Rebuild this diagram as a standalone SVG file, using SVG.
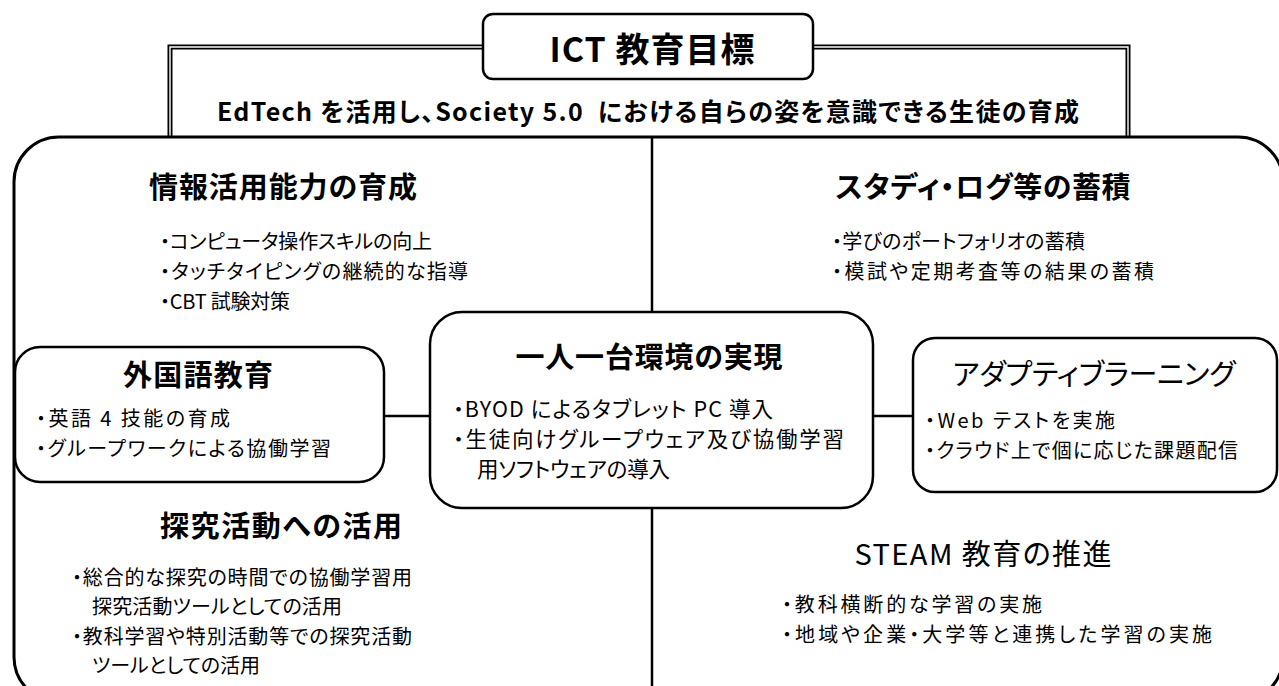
<svg xmlns="http://www.w3.org/2000/svg" width="1279" height="686" viewBox="0 0 1279 686">
<style>
text{font-family:"Noto Sans CJK JP","Noto Sans",sans-serif;fill:#000;font-feature-settings:"palt" 1}
.h{font-weight:bold;font-size:29px;text-anchor:middle}
.hn{font-weight:normal;font-size:29px;text-anchor:middle}
.b{font-size:20px}
.bc{font-size:21.5px}
.box{fill:#fff;stroke:#000;stroke-width:2.5}
.ln{stroke:#000;stroke-width:2.5;fill:none}
.dbl{stroke:#000;stroke-width:5;fill:none}
.dbw{stroke:#fff;stroke-width:1.4;fill:none}
</style>
<rect width="1279" height="686" fill="#fff"/>
<g id="frame">
<path class="dbl" d="M170,137 V47 H483 M813,47 H1128 V137"/>
<path class="dbw" d="M170,139 V47 H483 M813,47 H1128 V139"/>
<text x="648" y="121" xml:space="preserve" style="font-weight:bold;font-size:25px;text-anchor:middle" textLength="862" lengthAdjust="spacing">EdTech を活用し、Society 5.0  における自らの姿を意識できる生徒の育成</text>
</g>
<g id="goal">
<rect class="box" x="483" y="14" width="330" height="65" rx="10"/>
<text x="652" y="62" style="font-weight:bold;font-size:34px;text-anchor:middle" textLength="205">ICT 教育目標</text>
</g>
<g id="outer">
<rect x="14" y="137" width="1269" height="565" rx="45" fill="#fff" stroke="#000" stroke-width="3"/>
</g>
<g id="connectors">
<path class="ln" d="M652,137 V312 M652,508 V686 M383,416 H430 M873,416 H913"/>
</g>
<g id="info">
<text class="h" x="283" y="198" textLength="268">情報活用能力の育成</text>
<text class="b" x="160" y="249" textLength="272">・コンピュータ操作スキルの向上</text>
<text class="b" x="160" y="279" textLength="308">・タッチタイピングの継続的な指導</text>
<text class="b" x="160" y="309" textLength="130">・CBT 試験対策</text>
</g>
<g id="studylog">
<text class="h" x="983" y="198" textLength="295">スタディ・ログ等の蓄積</text>
<text class="b" x="832" y="249" textLength="253">・学びのポートフォリオの蓄積</text>
<text class="b" x="832" y="279" textLength="322">・模試や定期考査等の結果の蓄積</text>
</g>
<g id="foreign">
<rect class="box" x="15" y="347" width="369" height="135" rx="25"/>
<text class="h" x="198" y="386" textLength="150">外国語教育</text>
<text class="b" x="36" y="426" textLength="194">・英語 4 技能の育成</text>
<text class="b" x="36" y="456" textLength="295">・グループワークによる協働学習</text>
</g>
<g id="center">
<rect class="box" x="430" y="312" width="443" height="196" rx="32"/>
<text class="h" x="649" y="368" textLength="267">一人一台環境の実現</text>
<text class="bc" x="453" y="417" textLength="320">・BYOD によるタブレット PC 導入</text>
<text class="bc" x="453" y="447" textLength="391">・生徒向けグループウェア及び協働学習</text>
<text class="bc" x="477" y="477" textLength="193">用ソフトウェアの導入</text>
</g>
<g id="adaptive">
<rect class="box" x="913" y="338" width="364" height="154" rx="22"/>
<text class="hn" x="1094" y="385" textLength="283">アダプティブラーニング</text>
<text class="b" x="925" y="428" textLength="190">・Web テストを実施</text>
<text class="b" x="925" y="458" textLength="313">・クラウド上で個に応じた課題配信</text>
</g>
<g id="inquiry">
<text class="h" x="281" y="537" textLength="242">探究活動への活用</text>
<text class="b" x="72" y="585" textLength="340">・総合的な探究の時間での協働学習用</text>
<text class="b" x="92" y="614" textLength="250">探究活動ツールとしての活用</text>
<text class="b" x="72" y="644" textLength="340">・教科学習や特別活動等での探究活動</text>
<text class="b" x="92" y="673" textLength="168">ツールとしての活用</text>
</g>
<g id="steam">
<text class="hn" x="983" y="565" textLength="257">STEAM 教育の推進</text>
<text class="b" x="782" y="612" textLength="260">・教科横断的な学習の実施</text>
<text class="b" x="782" y="642" textLength="430">・地域や企業・大学等と連携した学習の実施</text>
</g>
</svg>
